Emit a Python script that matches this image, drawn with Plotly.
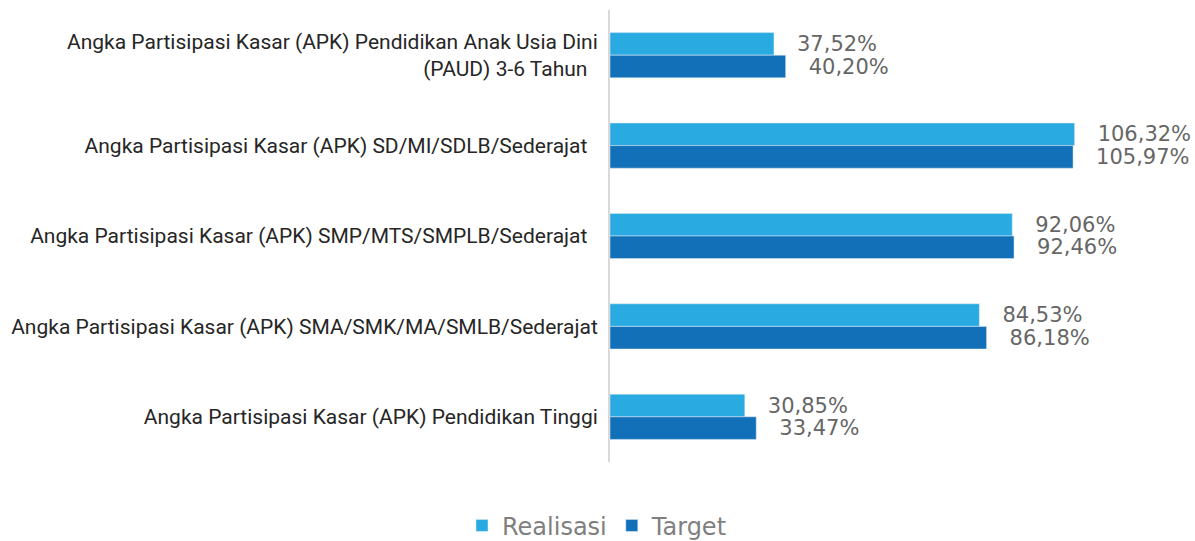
import plotly.graph_objects as go

categories = [
    "Angka Partisipasi Kasar (APK) Pendidikan Anak Usia Dini<br>(PAUD) 3-6 Tahun\u00a0\u00a0",
    "Angka Partisipasi Kasar (APK) SD/MI/SDLB/Sederajat\u00a0\u00a0",
    "Angka Partisipasi Kasar (APK) SMP/MTS/SMPLB/Sederajat\u00a0\u00a0",
    "Angka Partisipasi Kasar (APK) SMA/SMK/MA/SMLB/Sederajat",
    "Angka Partisipasi Kasar (APK) Pendidikan Tinggi",
]
realisasi = [37.52, 106.32, 92.06, 84.53, 30.85]
target = [40.20, 105.97, 92.46, 86.18, 33.47]


def fmt(v):
    return "\u00a0\u00a0\u00a0" + f"{v:.2f}".replace(".", ",") + "%"


label_font = dict(family="DejaVu Sans", size=21, color="#666666")

fig = go.Figure()
fig.add_trace(go.Bar(
    name="Realisasi", y=categories, x=realisasi, orientation="h",
    marker=dict(color="#29ABE2"), text=[fmt(v) for v in realisasi],
    textposition="outside", textfont=label_font, cliponaxis=False,
    constraintext="none",
))
fig.add_trace(go.Bar(
    name="Target", y=categories, x=target, orientation="h",
    marker=dict(color="#1170B8"), text=[fmt(v) for v in target],
    textposition="outside", textfont=label_font, cliponaxis=False,
    constraintext="none",
))

fig.update_layout(
    width=1195, height=541,
    margin=dict(l=610, r=6, t=10, b=79),
    barmode="group", bargap=0.5, bargroupgap=0,
    plot_bgcolor="white", paper_bgcolor="white",
    showlegend=True,
    legend=dict(orientation="h", xref="container", yref="container",
                x=0.5, xanchor="center", y=0.028, yanchor="middle",
                font=dict(family="DejaVu Sans", size=24, color="#7F7F7F"),
                itemwidth=30),
)
fig.update_xaxes(range=[0, 132.5], visible=False, showgrid=False)
fig.update_yaxes(autorange="reversed", showline=True, linecolor="#D9D9D9",
                 linewidth=2, showgrid=False, ticks="", ticklabelstandoff=6,
                 tickfont=dict(family="Roboto", size=21, color="#262626"))

fig.write_html("out.html", config={"displayModeBar": False},
               post_script="document.body.style.margin='0';")
